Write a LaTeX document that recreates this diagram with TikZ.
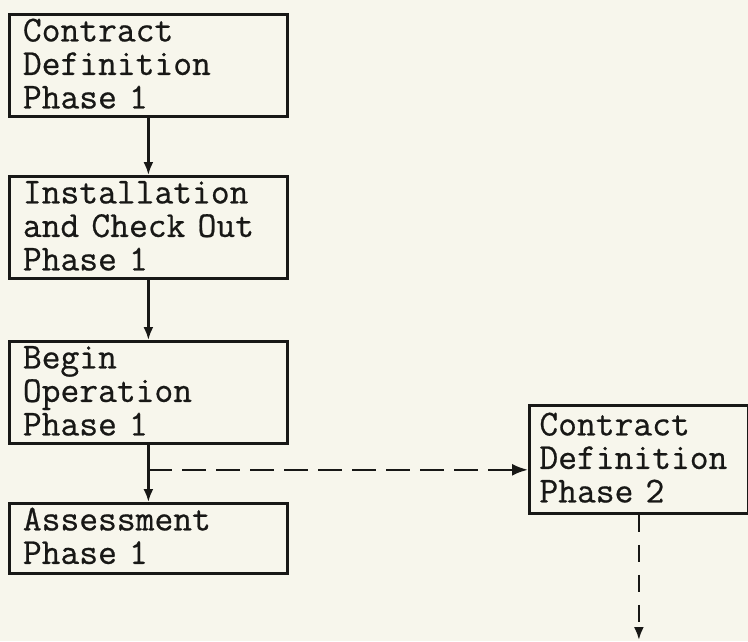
\documentclass[tikz,border=0pt]{standalone}
\usepackage{fontspec}
\newfontfamily\typewriter{Latin Modern Mono}[FakeBold=0.6]
\usetikzlibrary{arrows.meta}
\definecolor{paper}{RGB}{247,246,236}
\definecolor{ink}{RGB}{24,24,22}

\begin{document}
\begin{tikzpicture}[x=1pt,y=-1pt,
    phase/.style={draw=ink,line width=2.8pt,anchor=north west,align=left,text width=251pt,
      inner xsep=13.5pt,inner ysep=0pt,text height=27pt,text depth=75pt,text=ink,
      font=\typewriter\fontsize{36.5}{33.5}\selectfont},
    twoline/.style={text depth=43pt},
    flow/.style={draw=ink,line width=2.4pt,-{Latex[length=13pt,width=10pt]}},
    later/.style={flow,dash pattern=on 24pt off 10pt}]
      \fill[paper] (0,0) rectangle (748,641);
      \useasboundingbox (0,0) rectangle (748,641);
      \node[phase] (cd1) at (8,13) {Contract\\Definition\\Phase 1};
      \node[phase] (ic1) at (8,175) {Installation\\and Check Out\\Phase 1};
      \node[phase] (op1) at (8,340) {Begin\\Operation\\Phase 1};
      \node[phase,twoline] (as1) at (8,502) {Assessment\\Phase 1};
      \node[phase,text width=199pt,inner xsep=10pt,text height=30pt,text depth=78pt] (cd2) at (528,404) {Contract\\Definition\\Phase 2};
      \coordinate (split) at ([yshift=-25pt]op1.south);
      \coordinate (next) at (cd2.south |- 0,640);
      \draw[flow] (cd1.south) -- (ic1.north);
      \draw[flow] (ic1.south) -- (op1.north);
      \draw[flow] (op1.south) -- (as1.north);
      \draw[later,-{Latex[length=16pt,width=12pt]}] (split) -- (split -| cd2.west);
      \draw[later,dash pattern=on 17pt off 13pt] (cd2.south) -- (next);
    \end{tikzpicture}
\end{document}
